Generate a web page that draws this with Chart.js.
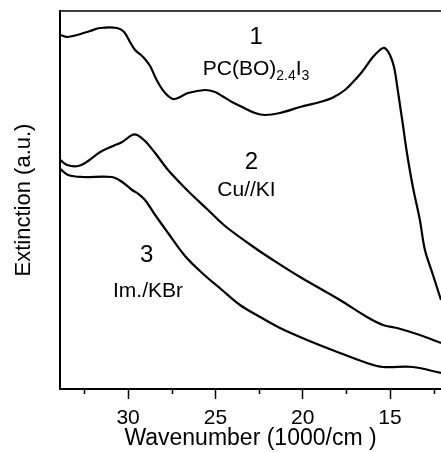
<!DOCTYPE html>
<html>
<head>
<meta charset="utf-8">
<script src="https://cdn.jsdelivr.net/npm/chart.js@4.4.1/dist/chart.umd.min.js"></script>
<style>
    html, body { margin: 0; padding: 0; background: #fff; }
</style>
</head>
<body>
<canvas id="chart" width="441" height="452"></canvas>
<script>
// 曲线 1: PC(BO)2.4I3
const wave1 = [33.89, 33.49, 32.92, 32.18, 31.60, 30.63, 30.23, 29.89, 29.60, 29.14, 28.74, 28.45, 28.17, 27.88, 27.42, 27.02, 26.57, 25.59, 25.02, 24.62, 24.05, 23.47, 22.73, 22.16, 21.30, 20.15, 19.01, 18.32, 17.58, 17.01, 16.61, 15.98, 15.58, 15.40, 15.23, 15.00, 14.77, 14.60, 14.43, 14.26, 14.03, 13.69, 13.29, 13.00, 12.54, 12.08];
const ext1 = [3.54, 3.52, 3.54, 3.58, 3.61, 3.61, 3.57, 3.47, 3.39, 3.32, 3.23, 3.12, 3.03, 2.96, 2.90, 2.92, 2.96, 2.99, 2.97, 2.93, 2.87, 2.82, 2.76, 2.74, 2.76, 2.82, 2.87, 2.91, 2.99, 3.09, 3.17, 3.32, 3.39, 3.41, 3.40, 3.34, 3.22, 3.04, 2.84, 2.64, 2.36, 2.02, 1.69, 1.39, 1.14, 0.89];

// 曲线 2: Cu//KI
const wave2 = [33.89, 33.49, 32.86, 32.29, 31.60, 30.86, 30.34, 29.77, 29.48, 29.03, 28.45, 27.71, 26.57, 25.42, 24.45, 22.73, 21.70, 20.15, 17.87, 16.32, 15.40, 14.60, 13.29, 12.08];
const ext2 = [2.29, 2.24, 2.23, 2.28, 2.37, 2.43, 2.47, 2.54, 2.54, 2.48, 2.36, 2.19, 1.98, 1.79, 1.63, 1.41, 1.29, 1.12, 0.89, 0.72, 0.64, 0.61, 0.54, 0.46];

// 曲线 3: Im./KBr
const wave3 = [33.89, 33.43, 32.63, 30.92, 30.34, 29.77, 29.48, 29.03, 28.45, 27.71, 26.74, 25.76, 24.62, 23.59, 22.44, 21.30, 19.75, 17.87, 16.32, 15.40, 13.69, 12.08];
const ext3 = [2.20, 2.14, 2.12, 2.12, 2.07, 1.99, 1.96, 1.89, 1.74, 1.56, 1.33, 1.16, 0.99, 0.84, 0.72, 0.61, 0.49, 0.36, 0.26, 0.22, 0.22, 0.16];

// 刻度
const majorTicks = [30, 25, 20, 15];
const minorTicks = [32.5, 27.5, 22.5, 17.5, 12.5];

const FONT = "'Liberation Sans', Arial, Helvetica, sans-serif";

function toPoints(xs, ys) {
    return xs.map((x, i) => ({ x: x, y: ys[i] }));
}

function lineSet(xs, ys) {
    return {
        data: toPoints(xs, ys),
        borderColor: '#000',
        borderWidth: 2.2,
        pointRadius: 0,
        tension: 0.35,
        fill: false
    };
}

// 标注文字（数据坐标）
const notes = [
    { text: '1', x: 22.67, y: 3.52, size: 24 },
    { text: '2', x: 22.93, y: 2.27, size: 24 },
    { text: 'Cu//KI', x: 23.22, y: 1.99, size: 21 },
    { text: '3', x: 28.94, y: 1.34, size: 24 },
    { text: 'Im./KBr', x: 28.86, y: 0.98, size: 21 }
];

const decorPlugin = {
    id: 'decor',
    afterDraw(chart) {
        const ctx = chart.ctx;
        const area = chart.chartArea;
        const xs = chart.scales.x;
        const ys = chart.scales.y;
        ctx.save();
        ctx.strokeStyle = '#000';

        // 上边框
        ctx.lineWidth = 1.5;
        ctx.beginPath();
        ctx.moveTo(area.left, area.top);
        ctx.lineTo(area.right, area.top);
        ctx.stroke();

        // 次刻度
        ctx.lineWidth = 1.5;
        minorTicks.forEach(v => {
            const px = Math.round(xs.getPixelForValue(v)) + 0.5;
            ctx.beginPath();
            ctx.moveTo(px, area.bottom);
            ctx.lineTo(px, area.bottom + 5);
            ctx.stroke();
        });

        // 标注
        ctx.fillStyle = '#000';
        ctx.textAlign = 'center';
        ctx.textBaseline = 'middle';
        notes.forEach(n => {
            ctx.font = n.size + 'px ' + FONT;
            ctx.fillText(n.text, xs.getPixelForValue(n.x), ys.getPixelForValue(n.y));
        });

        // PC(BO)2.4I3 带下标
        const cx = xs.getPixelForValue(22.67);
        const cy = ys.getPixelForValue(3.14);
        const parts = [
            { t: 'PC(BO)', s: 21, dy: 0 },
            { t: '2.4', s: 14, dy: 5 },
            { t: 'I', s: 21, dy: 0 },
            { t: '3', s: 14, dy: 5 }
        ];
        let total = 0;
        parts.forEach(p => {
            ctx.font = p.s + 'px ' + FONT;
            p.w = ctx.measureText(p.t).width;
            total += p.w;
        });
        let x0 = cx - total / 2;
        ctx.textAlign = 'left';
        ctx.textBaseline = 'alphabetic';
        parts.forEach(p => {
            ctx.font = p.s + 'px ' + FONT;
            ctx.fillText(p.t, x0, cy + p.dy);
            x0 += p.w;
        });
        ctx.restore();
    }
};

new Chart(document.getElementById('chart'), {
    type: 'line',
    data: {
        datasets: [lineSet(wave1, ext1), lineSet(wave2, ext2), lineSet(wave3, ext3)]
    },
    options: {
        responsive: false,
        animation: false,
        devicePixelRatio: 1,
        layout: { padding: { top: 11, right: 0, bottom: 0, left: 0 } },
        plugins: {
            legend: { display: false },
            tooltip: { enabled: false }
        },
        scales: {
            x: {
                type: 'linear',
                reverse: true,
                min: 12.08,
                max: 33.9,
                afterBuildTicks: (scale) => {
                    scale.ticks = majorTicks.concat(minorTicks)
                        .sort((a, b) => a - b)
                        .map(v => ({ value: v }));
                },
                afterFit: (scale) => { scale.height = 63; },
                grid: {
                    drawOnChartArea: false,
                    drawTicks: true,
                    tickLength: 10,
                    tickWidth: 1.5,
                    tickColor: (c) => (c.tick && majorTicks.includes(c.tick.value)) ? '#000' : 'rgba(0,0,0,0)'
                },
                border: { display: true, color: '#000', width: 2 },
                ticks: {
                    color: '#000',
                    padding: 7,
                    maxRotation: 0,
                    autoSkip: false,
                    font: { family: FONT, size: 21 },
                    callback: (v) => majorTicks.includes(v) ? String(v) : ''
                },
                title: {
                    display: true,
                    text: 'Wavenumber (1000/cm )',
                    color: '#000',
                    font: { family: FONT, size: 23 },
                    padding: { top: 0, bottom: 0 }
                }
            },
            y: {
                type: 'linear',
                min: 0,
                max: 3.78,
                afterFit: (scale) => { scale.width = 60; },
                grid: { display: false, drawTicks: false },
                border: { display: true, color: '#000', width: 2 },
                ticks: { display: false },
                title: {
                    display: true,
                    text: 'Extinction (a.u.)',
                    color: '#000',
                    font: { family: FONT, size: 22 },
                    padding: { top: 11, bottom: 0 }
                }
            }
        }
    },
    plugins: [decorPlugin]
});
</script>
</body>
</html>
